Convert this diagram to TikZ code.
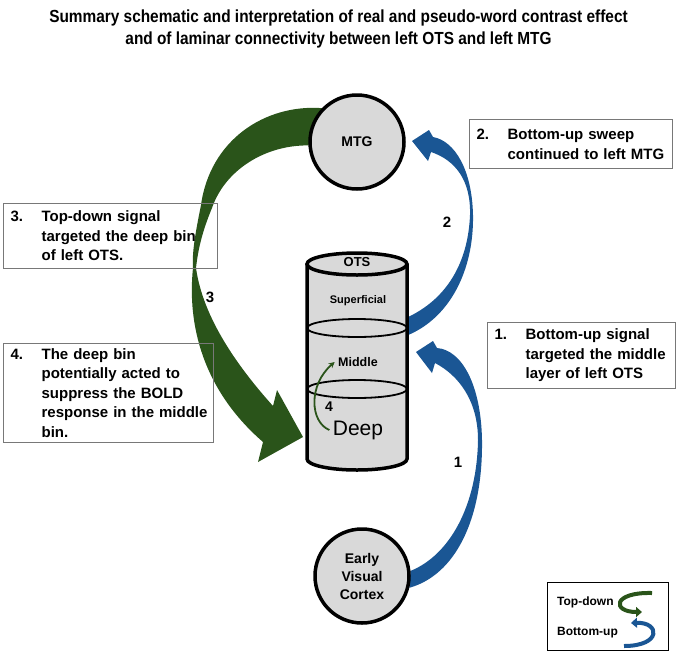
\documentclass[tikz,border=0pt]{standalone}
\usepackage{fontspec}
\setmainfont{Liberation Sans}
\newfontfamily\titlefont[FakeStretch=0.88]{Liberation Sans}
\usetikzlibrary{positioning,arrows.meta,backgrounds,calc}
\definecolor{darkgreen}{RGB}{42,84,26}
\definecolor{darkblue}{RGB}{26,86,148}
\definecolor{areagray}{RGB}{217,217,217}
\definecolor{boxgray}{RGB}{120,120,120}
\newcommand{\notenum}[1]{\makebox[31pt][l]{#1}}
\newcommand{\noteindent}{\hspace*{31pt}}
\hyphenpenalty=10000
\exhyphenpenalty=10000

\begin{document}
\begin{tikzpicture}
[x=1pt, y=-1pt, every node/.style={font=\bfseries},
 area/.style={circle, draw, line width=3.5pt, fill=areagray, minimum size=94pt, inner sep=0pt, align=center},
 note/.style={rectangle, draw=boxgray, line width=1.2pt, anchor=north west, inner xsep=7pt, inner ysep=0pt, align=left, font=\bfseries\fontsize{15}{19.5}\selectfont},
 num/.style={font=\bfseries\fontsize{15}{18}\selectfont},
 binline/.style={line width=1.8pt},
 cylwall/.style={line width=3.5pt}]
\useasboundingbox (0,0) rectangle (677,654);

\node[font=\titlefont\bfseries\fontsize{17.5}{22}\selectfont, align=center] (title) at (338.5,29)
  {Summary schematic and interpretation of real and pseudo-word contrast effect\\and of laminar connectivity between left OTS and left MTG};

\node[area, font=\bfseries\fontsize{14}{17}\selectfont] (mtg) at (357,142) {MTG};
\node[area, font=\bfseries\fontsize{14}{18}\selectfont] (evc) at (362,576) {Early\\Visual\\Cortex};

% OTS column
\node[minimum width=100pt, minimum height=195pt, inner sep=0pt, outer sep=0pt] (ots) at (357,361.5) {};
\fill[areagray] (ots.north west) -- (ots.south west) arc[start angle=180, end angle=360, x radius=50pt, y radius=11pt] -- (ots.north east) -- cycle;
\draw[binline] ($(ots.north)+(0,64)$) ellipse[x radius=50pt, y radius=9pt];
\draw[binline] ($(ots.north)+(0,125)$) ellipse[x radius=50pt, y radius=9pt];
\draw[cylwall] (ots.north west) -- (ots.south west) arc[start angle=180, end angle=360, x radius=50pt, y radius=11pt] -- (ots.north east);
\draw[cylwall, fill=areagray] (ots.north) ellipse[x radius=50pt, y radius=11pt];

\node[font=\bfseries\fontsize{13}{15}\selectfont] (otslbl) at (357,262) {OTS};
\node[font=\bfseries\fontsize{11}{13}\selectfont] (sup) at (358,301) {Superficial};
\node[font=\bfseries\fontsize{12.5}{14}\selectfont] (mid) at (358,362) {Middle};
\node[font=\mdseries\fontsize{21}{24}\selectfont] (deep) at (358,430) {Deep};
\node[num, font=\bfseries\fontsize{14}{16}\selectfont] (n4) at (329,407) {4};
\draw[darkgreen, line width=1.8pt, -{Stealth[length=6pt,width=6pt]}] (deep.west) .. controls (310,422) and (308,385) .. (mid.west);

\begin{scope}[on background layer]
\fill[darkgreen] (mtg.136) .. controls (265,104) and (210,140) .. (201,205)
  .. controls (195,235) and (192,252) .. (193,268)
  .. controls (187,325) and (203,390) .. (263,442) -- (258,462) -- (303,437) -- (277,390) -- (273,406)
  .. controls (238,367) and (203,318) .. (196,268)
  .. controls (198,250) and (202,232) .. (212,208)
  .. controls (225,170) and (265,145) .. (mtg.184) -- cycle;
\fill[darkblue] ($(ots.east)+(0,-44)$) .. controls (445,300) and (468,265) .. (470,215)
  .. controls (471,180) and (455,160) .. (431,152) -- (428,161) -- (412,141) -- (429,130) -- (433,137)
  .. controls (455,141) and (472,170) .. (473,215)
  .. controls (474,270) and (450,318) .. ($(ots.east)+(0,-26)$) -- cycle;
\fill[darkblue] (evc.6) .. controls (450,555) and (477,505) .. (478,440)
  .. controls (478,400) and (458,375) .. (435,363) -- (432,373) -- (416,352) -- (433,341) -- (437,348)
  .. controls (462,350) and (481,385) .. (482,440)
  .. controls (483,520) and (455,575) .. (evc.346) -- cycle;
\end{scope}

\node[num] (n1) at (458,462) {1};
\node[num] (n2) at (447,222) {2};
\node[num] (n3) at (210,297) {3};

\node[note, text width=189pt, minimum height=49pt] (box2) at (469,119)
  {\notenum{2.}Bottom-up sweep\\\noteindent continued to left MTG};
\node[note, text width=174pt, minimum height=66pt] (box1) at (487,322)
  {\notenum{1.}Bottom-up signal\\\noteindent targeted the middle\\\noteindent layer of left OTS};
\node[note, text width=200pt, minimum height=65pt] (box3) at (3,203)
  {\notenum{3.}Top-down signal\\\noteindent targeted the deep bin\\\noteindent of left OTS.};
\node[note, text width=196pt, minimum height=99pt] (box4) at (3,343)
  {\notenum{4.}The deep bin\\\noteindent potentially acted to\\\noteindent suppress the BOLD\\\noteindent\mbox{response in the middle}\\\noteindent bin.};

\node[draw, line width=1.2pt, minimum width=121pt, minimum height=68pt, anchor=north west] (legend) at (547,582) {};
\node[font=\bfseries\fontsize{12}{14}\selectfont, anchor=west, inner sep=0pt] (tdlbl) at (557,602) {Top-down};
\node[font=\bfseries\fontsize{12}{14}\selectfont, anchor=west, inner sep=0pt] (bulbl) at (557,633) {Bottom-up};
\draw[darkgreen, line width=4pt, -{Triangle[length=6pt,width=10pt]}] (652,593) .. controls (612,592) and (612,612) .. (642,612);
\draw[darkblue, line width=4pt, {Triangle[length=6pt,width=10pt]}-] (631,623) .. controls (660,622) and (662,646) .. (624,646);
\end{tikzpicture}
\end{document}
